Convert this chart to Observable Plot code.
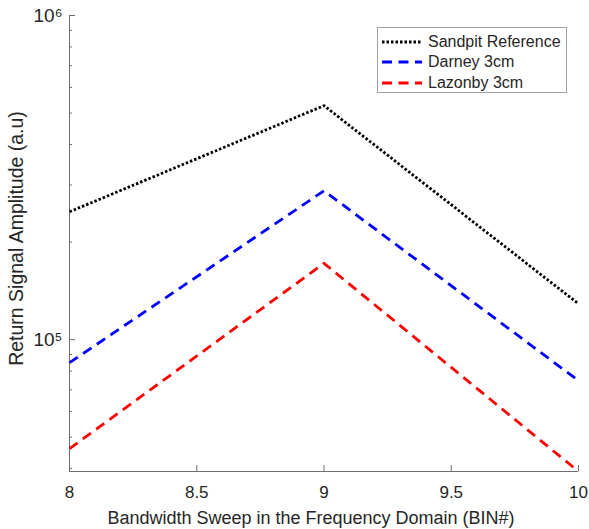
<!DOCTYPE html>
<html>
<head>
<meta charset="utf-8">
<script src="https://cdn.jsdelivr.net/npm/d3@7"></script>
<script src="https://cdn.jsdelivr.net/npm/@observablehq/plot@0.6"></script>
<style>
  body { margin: 0; background: #fff; }
  #wrap { position: relative; width: 589px; height: 529px; font-family: "Liberation Sans", Arial, sans-serif; }
  #legend { position: absolute; left: 377px; top: 27px; width: 190px; height: 66px; border: 1px solid #a0a0a0; background: #fff; box-sizing: border-box; }
  #legend .row { position: absolute; left: 0; height: 21px; display: flex; align-items: center; }
  #legend svg { margin-left: 3px; }
  #legend span { font-size: 16px; color: #262626; margin-left: 5px; }
</style>
</head>
<body>
<div id="wrap"></div>
<script>
const bins = [8, 9, 10];
const sandpit = [248000, 527000, 129000];
const darney = [84900, 288000, 74700];
const lazonby = [46100, 172000, 39200];
const seriesNames = ["Sandpit Reference", "Darney 3cm", "Lazonby 3cm"];
const seriesColors = ["#000000", "#0000ff", "#ff0000"];
const seriesDash = ["2.5 2", "10 6.5", "10 6.5"];
const xTicks = [8, 8.5, 9, 9.5, 10];
const yMajor = [1e5, 1e6];
const yMinor = [4e4, 5e4, 6e4, 7e4, 8e4, 9e4, 2e5, 3e5, 4e5, 5e5, 6e5, 7e5, 8e5, 9e5];
const yDomain = [39200, 1e6];
const xLabel = "Bandwidth Sweep in the Frequency Domain (BIN#)";
const yLabel = "Return Signal Amplitude (a.u)";

const allSeries = [sandpit, darney, lazonby];
const data = allSeries.flatMap((vals, i) => bins.map((b, j) => ({bin: b, value: vals[j], series: seriesNames[i]})));

const supers = {"0":"⁰","1":"¹","2":"²","3":"³","4":"⁴","5":"⁵","6":"⁶","7":"⁷","8":"⁸","9":"⁹"};
const fmtPow = v => "10" + String(Math.round(Math.log10(v))).split("").map(c => supers[c]).join("");

const axisColor = "#6e6e6e";
const textColor = "#262626";
const chart = Plot.plot({
  width: 589,
  height: 529,
  marginLeft: 69,
  marginRight: 11,
  marginTop: 15,
  marginBottom: 58,
  style: {fontFamily: "'Liberation Sans', Arial, sans-serif", fontSize: "16px", color: textColor, background: "#fff"},
  x: {domain: [8, 10]},
  y: {type: "log", domain: yDomain},
  marks: [
    Plot.ruleX([8], {stroke: axisColor, strokeWidth: 1}),
    Plot.ruleY([yDomain[0]], {stroke: axisColor, strokeWidth: 1}),
    Plot.axisY({ticks: yMinor, tickSize: -3, tickFormat: () => "", stroke: axisColor, label: null}),
    Plot.axisY({ticks: yMajor, tickSize: -6, tickPadding: 13, tickFormat: fmtPow, stroke: axisColor, fill: textColor, fontSize: 19, label: null}),
    Plot.axisX({ticks: xTicks, tickSize: -6, tickPadding: 20.5, tickFormat: d => String(d), stroke: axisColor, fill: textColor, fontSize: 17, label: null}),
    Plot.text([xLabel], {text: d => d, frameAnchor: "bottom", textAnchor: "middle", lineAnchor: "middle", dy: 47, dx: -13, fontSize: 18, fill: textColor}),
    Plot.text([yLabel], {text: d => d, frameAnchor: "left", textAnchor: "middle", lineAnchor: "middle", rotate: -90, dx: -53, dy: -5, fontSize: 19.5, fill: textColor}),
    ...seriesNames.map((name, i) => Plot.line(data.filter(d => d.series === name), {
      x: "bin", y: "value", stroke: seriesColors[i], strokeWidth: 2.8, strokeDasharray: seriesDash[i], strokeLinecap: "butt"
    }))
  ]
});

const wrap = document.getElementById("wrap");
wrap.appendChild(chart);

const legend = document.createElement("div");
legend.id = "legend";
seriesNames.forEach((name, i) => {
  const row = document.createElement("div");
  row.className = "row";
  row.style.top = (3 + i * 20.5) + "px";
  row.innerHTML = `<svg width="42" height="10"><line x1="1" y1="5" x2="41" y2="5" stroke="${seriesColors[i]}" stroke-width="2.8" stroke-dasharray="${seriesDash[i]}"/></svg><span>${name}</span>`;
  legend.appendChild(row);
});
wrap.appendChild(legend);
</script>
</body>
</html>
